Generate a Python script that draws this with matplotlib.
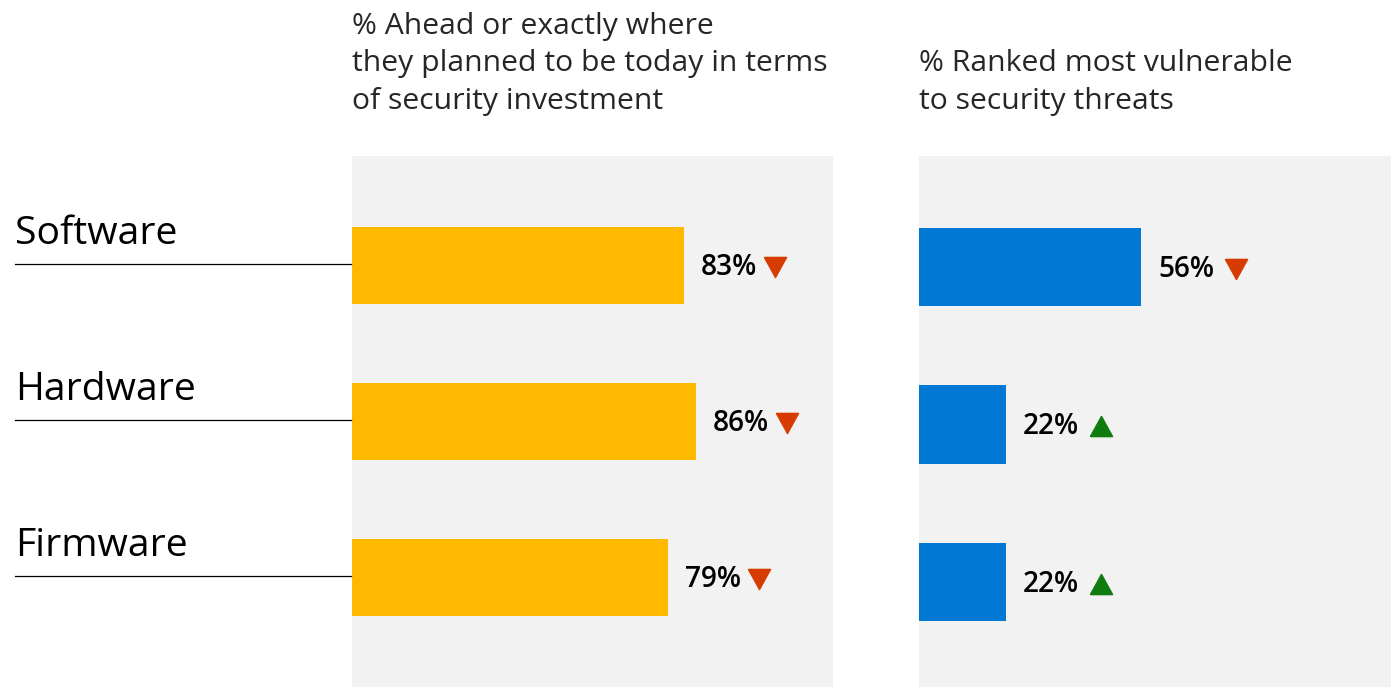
import matplotlib
matplotlib.use("Agg")
import matplotlib.pyplot as plt
import matplotlib.transforms as mtransforms

plt.rcParams['font.family'] = ['Open Sans', 'DejaVu Sans']

categories = ["Software", "Hardware", "Firmware"]
ahead_values = [83, 86, 79]
ahead_trend = ["down", "down", "down"]
vuln_values = [56, 22, 22]
vuln_trend = ["down", "up", "up"]
title_left = "% Ahead or exactly where\nthey planned to be today in terms\nof security investment"
title_right = "% Ranked most vulnerable\nto security threats"

W, H = 1391, 687
DPI = 100
fig = plt.figure(figsize=(W / DPI, H / DPI), dpi=DPI)
fig.patch.set_facecolor("white")

GREY = "#F2F2F2"
YELLOW = "#FFB900"
BLUE = "#0078D4"
RED = "#D83B01"
GREEN = "#107C10"
TEXT = "#262626"

down_marker = [(-1.1, 1.0), (1.1, 1.0), (0.0, -1.0), (-1.1, 1.0)]
up_marker = [(-1.1, -1.0), (1.1, -1.0), (0.0, 1.0), (-1.1, -1.0)]


def panel(rect, values, trends, color, xmax, ylim, height, tri_off):
    ax = fig.add_axes(rect)
    ax.set_facecolor(GREY)
    for s in ax.spines.values():
        s.set_visible(False)
    ax.set_xticks([])
    ax.set_yticks([])
    ypos = list(range(len(values)))
    ax.barh(ypos, values, height=height, color=color, left=0)
    ax.set_xlim(0, xmax)
    ax.set_ylim(*ylim)
    for y, v, t in zip(ypos, values, trends):
        ax.annotate(f"{v}%", xy=(v, y), xytext=(12, -1.5), textcoords="offset points",
                    ha="left", va="center", fontsize=20.2, fontweight="semibold", color="black")
        ax.plot([v], [y], linestyle="none",
                marker=down_marker if t == "down" else up_marker,
                markersize=16, color=RED if t == "down" else GREEN,
                transform=ax.transData + mtransforms.ScaledTranslation(tri_off / DPI, -1.5 / DPI, fig.dpi_scale_trans),
                clip_on=False)
    return ax


axL = panel([352 / W, 0, 481 / W, 531 / H], ahead_values, ahead_trend, YELLOW,
            481 / 4.0, (2.702, -0.702), 0.494, 91)
axR = panel([919 / W, 0, 472 / W, 531 / H], vuln_values, vuln_trend, BLUE,
            472 / 3.97, (2.666, -0.705), 0.498, 95)

# category labels and underline rules
blend = mtransforms.blended_transform_factory(fig.transFigure, axL.transData)
for i, cat in enumerate(categories):
    axL.plot([15 / W, 351 / W], [i, i], color="black", linewidth=0.9,
             transform=blend + mtransforms.ScaledTranslation(0, 1.5 / DPI, fig.dpi_scale_trans),
             clip_on=False)
    axL.annotate(cat, xy=(15, i), xycoords=("figure pixels", "data"),
                 xytext=(0, 15.5), textcoords="offset points",
                 ha="left", va="baseline", fontsize=28.2, color="black")

fig.text(352 / W, 1 - 109 / H, title_left, ha="left", va="baseline",
         fontsize=21.7, color=TEXT, linespacing=1.39)
fig.text(919 / W, 1 - 109 / H, title_right, ha="left", va="baseline",
         fontsize=21.7, color=TEXT, linespacing=1.39)

fig.savefig("out.png", dpi=DPI, facecolor="white")
